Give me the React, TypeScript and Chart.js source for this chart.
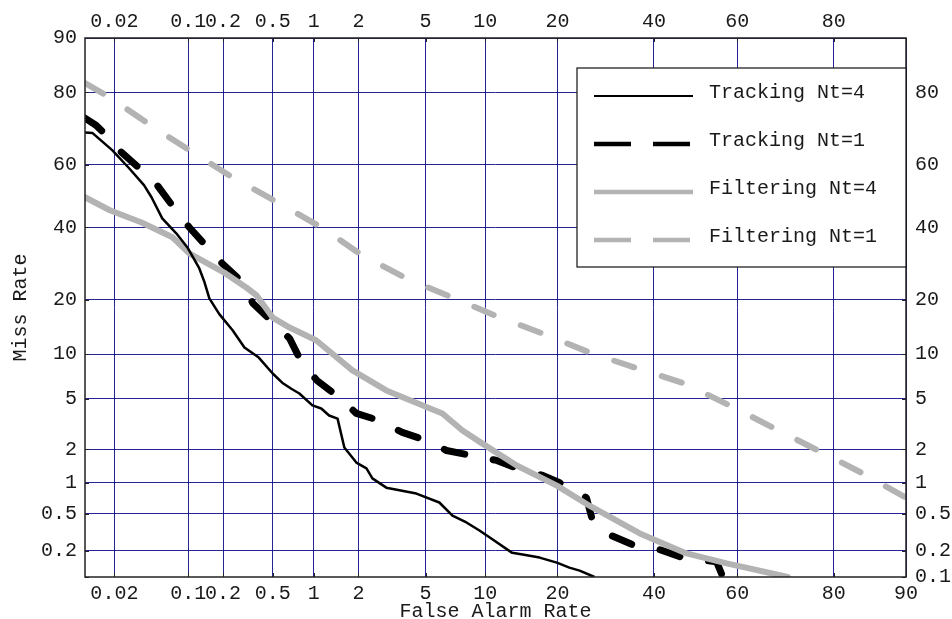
import React, { useEffect, useRef } from "react";
import { Chart, registerables } from "chart.js";

Chart.register(...registerables);

// ---------- data (percent) ----------
const seriesLabels = ["Tracking Nt=4", "Tracking Nt=1", "Filtering Nt=4", "Filtering Nt=1"];

const trackingNt4FA = [0.01, 0.012, 0.019, 0.028, 0.039, 0.046, 0.058, 0.078, 0.098, 0.125, 0.139, 0.153, 0.186, 0.24, 0.3, 0.39, 0.5, 0.59, 0.69, 0.79, 0.98, 1.13, 1.28, 1.46, 1.62, 1.94, 2.25, 2.45, 2.98, 4.45, 5.93, 6.93, 8.14, 9.4, 10.5, 13.2, 14.6, 17.1, 19.9, 22.1, 24.0, 26.9];
const trackingNt4Miss = [69.7, 69.5, 64.5, 58.9, 53.5, 49.6, 42.8, 38.1, 33.9, 27.9, 24.2, 20.3, 16.9, 13.8, 10.97, 9.5, 7.5, 6.5, 5.9, 5.46, 4.47, 4.24, 3.75, 3.55, 2.07, 1.53, 1.36, 1.1, 0.9, 0.79, 0.646, 0.477, 0.405, 0.333, 0.28, 0.19, 0.182, 0.168, 0.147, 0.129, 0.119, 0.1];

const trackingNt1FA = [0.01, 0.013, 0.0165, 0.0234, 0.037, 0.052, 0.075, 0.102, 0.147, 0.197, 0.29, 0.35, 0.5, 0.67, 0.83, 1.06, 1.5, 1.94, 2.7, 3.7, 5.05, 6.46, 8.7, 11.3, 14.2, 17.6, 20.4, 25.3, 26.5, 30.4, 35.5, 40.6, 46.9, 55.1, 56.6];
const trackingNt1Miss = [73.6, 71.7, 68.9, 63.9, 58.3, 53.5, 46.0, 40.0, 33.9, 29.2, 24.2, 19.2, 15.3, 12.4, 8.7, 6.7, 5.1, 3.89, 3.43, 2.76, 2.37, 1.95, 1.76, 1.6, 1.33, 1.17, 1.0, 0.72, 0.425, 0.294, 0.229, 0.212, 0.168, 0.15, 0.1];

const filteringNt4FA = [0.01, 0.018, 0.037, 0.072, 0.102, 0.21, 0.31, 0.375, 0.5, 0.67, 1.04, 1.83, 2.98, 6.15, 7.78, 9.71, 13.8, 19.9, 25.9, 36.7, 47.8, 57.5, 71.3];
const filteringNt4Miss = [49.6, 45.4, 41.5, 36.9, 32.1, 26.5, 22.9, 21.0, 16.2, 14.3, 12.1, 7.86, 5.74, 3.89, 2.86, 2.23, 1.44, 0.94, 0.6, 0.31, 0.187, 0.144, 0.1];

const filteringNt1FA = [0.01, 0.018, 0.045, 0.109, 0.24, 0.54, 1.13, 2.12, 3.9, 6.85, 11.4, 17.9, 26.3, 36.2, 47.4, 58.2, 68.1, 77.2, 84.6, 90];
const filteringNt1Miss = [82.0, 78.8, 71.7, 63.9, 56.0, 48.0, 40.0, 31.5, 25.2, 20.6, 16.4, 13.1, 10.1, 8.1, 6.4, 4.47, 3.02, 1.95, 1.22, 0.72];

// ---------- ticks (percent) ----------
const xBottomTicks = [0.02, 0.1, 0.2, 0.5, 1, 2, 5, 10, 20, 40, 60, 80, 90];
const xTopTicks = [0.02, 0.1, 0.2, 0.5, 1, 2, 5, 10, 20, 40, 60, 80];
const yLeftTicks = [0.2, 0.5, 1, 2, 5, 10, 20, 40, 60, 80, 90];
const yRightTicks = [0.1, 0.2, 0.5, 1, 2, 5, 10, 20, 40, 60, 80];
const xRange = [0.01, 90];
const yRange = [0.1, 90];

// ---------- normal deviate (DET scale) ----------
function probit(pct: number): number {
  const p = pct / 100;
  const a = [-39.69683028665376, 220.9460984245205, -275.9285104469687, 138.357751867269, -30.66479806614716, 2.506628277459239];
  const b = [-54.47609879822406, 161.5858368580409, -155.6989798598866, 66.80131188771972, -13.28068155288572];
  const c = [-0.007784894002430293, -0.3223964580411365, -2.400758277161838, -2.549732539343734, 4.374664141464968, 2.938163982698783];
  const d = [0.007784695709041462, 0.3224671290700398, 2.445134137142996, 3.754408661907416];
  const plow = 0.02425;
  if (p < plow) {
    const q = Math.sqrt(-2 * Math.log(p));
    return (((((c[0] * q + c[1]) * q + c[2]) * q + c[3]) * q + c[4]) * q + c[5]) / ((((d[0] * q + d[1]) * q + d[2]) * q + d[3]) * q + 1);
  }
  if (p <= 1 - plow) {
    const q = p - 0.5;
    const r = q * q;
    return ((((((a[0] * r + a[1]) * r + a[2]) * r + a[3]) * r + a[4]) * r + a[5]) * q) / (((((b[0] * r + b[1]) * r + b[2]) * r + b[3]) * r + b[4]) * r + 1);
  }
  const q = Math.sqrt(-2 * Math.log(1 - p));
  return -(((((c[0] * q + c[1]) * q + c[2]) * q + c[3]) * q + c[4]) * q + c[5]) / ((((d[0] * q + d[1]) * q + d[2]) * q + d[3]) * q + 1);
}

const FONT = "'Liberation Mono', 'DejaVu Sans Mono', monospace";
const TEXT = "#1a1a1a";
const GRID = "rgba(0,0,128,0.85)";
const BLACK = "#000000";
const GRAY = "#b3b3b3";

const legendRows = [
  { color: BLACK, width: 2, dash: [] as number[] },
  { color: BLACK, width: 4.5, dash: [37, 22] },
  { color: GRAY, width: 4.5, dash: [] as number[] },
  { color: GRAY, width: 4.5, dash: [37, 22] },
];

const framePlugin = {
  id: "frame",
  afterDatasetsDraw(chart: any) {
    const { ctx, chartArea: a, scales } = chart;
    ctx.save();
    // inward tick marks
    ctx.strokeStyle = "#222";
    ctx.lineWidth = 1;
    ctx.beginPath();
    xBottomTicks.forEach((v) => {
      const px = Math.round(scales.x.getPixelForValue(probit(v))) + 0.5;
      ctx.moveTo(px, a.bottom);
      ctx.lineTo(px, a.bottom - 4);
      ctx.moveTo(px, a.top);
      ctx.lineTo(px, a.top + 4);
    });
    yRightTicks.forEach((v) => {
      const py = Math.round(scales.y.getPixelForValue(probit(v))) + 0.5;
      ctx.moveTo(a.left, py);
      ctx.lineTo(a.left + 4, py);
      ctx.moveTo(a.right, py);
      ctx.lineTo(a.right - 4, py);
    });
    ctx.stroke();
    // frame
    ctx.strokeStyle = "#222";
    ctx.lineWidth = 1.5;
    ctx.strokeRect(a.left, a.top, a.right - a.left, a.bottom - a.top);

    // legend
    const bw = 329;
    const bh = 199;
    const bx = a.right - bw;
    const by = a.top + 30;
    ctx.fillStyle = "#ffffff";
    ctx.fillRect(bx, by, bw, bh);
    ctx.strokeStyle = "#111";
    ctx.lineWidth = 1.2;
    ctx.strokeRect(bx, by, bw, bh);
    ctx.font = `20px ${FONT}`;
    ctx.textBaseline = "alphabetic";
    ctx.textAlign = "left";
    legendRows.forEach((row, i) => {
      const y = by + 28 + i * 48;
      ctx.beginPath();
      ctx.strokeStyle = row.color;
      ctx.lineWidth = row.width;
      ctx.lineCap = "butt";
      ctx.setLineDash(row.dash);
      ctx.moveTo(bx + 17, y);
      ctx.lineTo(bx + 116, y);
      ctx.stroke();
      ctx.setLineDash([]);
      ctx.fillStyle = TEXT;
      ctx.fillText(seriesLabels[i], bx + 132, y + 2);
    });
    ctx.restore();
  },
};

function mk(xs: number[], ys: number[]) {
  return xs.map((x, i) => ({ x: probit(x), y: probit(ys[i]) }));
}

export default function App() {
  const ref = useRef<HTMLCanvasElement>(null);
  useEffect(() => {
    const canvas = ref.current;
    if (!canvas) return;
    const font = { family: FONT, size: 20 };
    const common = { showLine: true, pointRadius: 0, tension: 0, borderJoinStyle: "round", clip: 0 };
    const chart = new Chart(canvas, {
      type: "scatter",
      data: {
        datasets: [
          { ...common, label: seriesLabels[0], data: mk(trackingNt4FA, trackingNt4Miss), borderColor: BLACK, borderWidth: 2.5, order: 0 },
          { ...common, label: seriesLabels[1], data: mk(trackingNt1FA, trackingNt1Miss), borderColor: BLACK, borderWidth: 7, borderDash: [21, 29], borderCapStyle: "round", order: 2 },
          { ...common, label: seriesLabels[2], data: mk(filteringNt4FA, filteringNt4Miss), borderColor: GRAY, borderWidth: 6, borderCapStyle: "round", order: 1 },
          { ...common, label: seriesLabels[3], data: mk(filteringNt1FA, filteringNt1Miss), borderColor: GRAY, borderWidth: 6, borderDash: [21, 29], borderCapStyle: "round", order: 3 },
        ] as any,
      },
      options: {
        responsive: false,
        animation: false,
        devicePixelRatio: 1,
        events: [],
        layout: { padding: 0 },
        plugins: { legend: { display: false }, tooltip: { enabled: false } },
        scales: {
          x: {
            type: "linear",
            position: "bottom",
            bounds: "data",
            min: probit(xRange[0]),
            max: probit(xRange[1]),
            afterBuildTicks: (s: any) => {
              s.ticks = xBottomTicks.map((v) => ({ value: probit(v) }));
            },
            afterFit: (s: any) => {
              s.height = 42;
            },
            ticks: { autoSkip: false, maxRotation: 0, minRotation: 0, padding: 5, font, color: TEXT, callback: (_v: any, i: number) => String(xBottomTicks[i]) },
            grid: { color: GRID, lineWidth: 1, drawTicks: false },
            border: { display: false },
            title: { display: true, text: "False Alarm Rate", font, color: TEXT, padding: { top: 0, bottom: -5 } },
          },
          x2: {
            type: "linear",
            axis: "x",
            position: "top",
            bounds: "data",
            min: probit(xRange[0]),
            max: probit(xRange[1]),
            afterBuildTicks: (s: any) => {
              s.ticks = xTopTicks.map((v) => ({ value: probit(v) }));
            },
            afterFit: (s: any) => {
              s.height = 38;
            },
            ticks: { autoSkip: false, maxRotation: 0, minRotation: 0, padding: 4, font, color: TEXT, callback: (_v: any, i: number) => String(xTopTicks[i]) },
            grid: { display: false, drawTicks: false },
            border: { display: false },
          },
          y: {
            type: "linear",
            position: "left",
            bounds: "data",
            min: probit(yRange[0]),
            max: probit(yRange[1]),
            afterBuildTicks: (s: any) => {
              s.ticks = yLeftTicks.map((v) => ({ value: probit(v) }));
            },
            afterFit: (s: any) => {
              s.width = 85;
            },
            ticks: { autoSkip: false, padding: 8, font, color: TEXT, callback: (_v: any, i: number) => String(yLeftTicks[i]) },
            grid: { color: GRID, lineWidth: 1, drawTicks: false },
            border: { display: false },
            title: { display: true, text: "Miss Rate", font, color: TEXT, padding: { top: 9, bottom: 0 } },
          },
          y2: {
            type: "linear",
            axis: "y",
            position: "right",
            bounds: "data",
            min: probit(yRange[0]),
            max: probit(yRange[1]),
            afterBuildTicks: (s: any) => {
              s.ticks = yRightTicks.map((v) => ({ value: probit(v) }));
            },
            afterFit: (s: any) => {
              s.width = 46;
            },
            ticks: { autoSkip: false, padding: 9, font, color: TEXT, callback: (_v: any, i: number) => String(yRightTicks[i]) },
            grid: { display: false, drawTicks: false },
            border: { display: false },
          },
        },
      } as any,
      plugins: [framePlugin],
    });
    return () => chart.destroy();
  }, []);
  return (
    <canvas
      ref={ref}
      width={952}
      height={619}
      style={{ position: "fixed", left: 0, top: 0, display: "block", width: 952, height: 619 }}
    />
  );
}
